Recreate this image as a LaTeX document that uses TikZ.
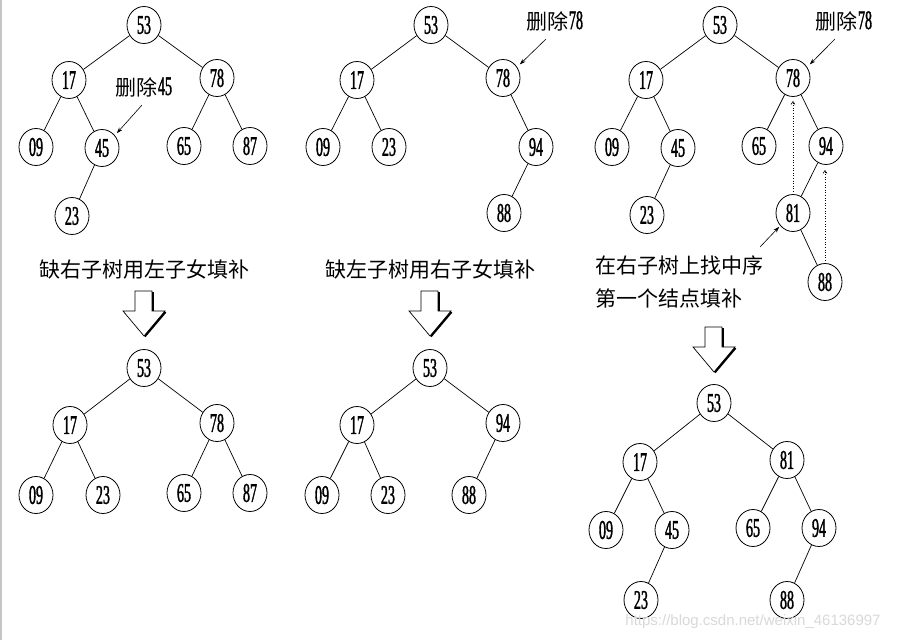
\documentclass[tikz,border=0pt]{standalone}
\usepackage{fontspec}
\setmainfont{Liberation Serif}
\newfontfamily\numfont[FakeStretch=0.52,FakeBold=1.2]{Liberation Serif}
\newfontfamily\cjk{Noto Sans CJK SC}
\newfontfamily\wmfont{Liberation Sans}
\usetikzlibrary{shapes.geometric,arrows.meta}
\newcommand\dgt{\numfont\fontsize{27pt}{27pt}\selectfont}
\tikzset{
  nd/.style={ellipse, draw, line width=0.8pt, minimum width=34pt, minimum height=37pt,
    inner sep=0pt, font=\dgt},
  ln/.style={line width=0.7pt},
  ptr/.style={line width=0.6pt, -{Stealth[length=6pt,width=4pt]}},
  dotarr/.style={line width=0.6pt, dotted, -{Straight Barb[length=3pt,width=4pt]}},
  lbl/.style={font=\cjk\fontsize{21pt}{21pt}\selectfont, inner sep=0pt},
  captxt/.style={font=\cjk\fontsize{21pt}{21pt}\selectfont, inner sep=0pt},
  bigarr/.pic={
    \draw[line width=0.7pt, fill=white] (-21,20) -- (-9,20) -- (-9,0) -- (8,0) -- (8,20) -- (21,20) -- (0,45) -- cycle;
    \draw[line width=2pt] (9,1) -- (9,20);
    \draw[line width=2pt] (21.5,21) -- (0.8,45.5);
  }
}
\begin{document}
\begin{tikzpicture}[x=1pt,y=-1pt]
\useasboundingbox (0,0) rectangle (899,640);
\fill[white] (0,0) rectangle (899,640);
\draw[gray!45, line width=2pt] (1,0) -- (1,640);

% ---------- Tree A (top-left) ----------
\node[nd] (a53) at (144,25) {53};
\node[nd] (a17) at (69,80) {17};
\node[nd] (a78) at (217,78) {78};
\node[nd] (a09) at (36,147) {09};
\node[nd] (a45) at (102,148) {45};
\node[nd] (a65) at (184,146) {65};
\node[nd] (a87) at (250,146) {87};
\node[nd] (a23) at (72,216) {23};
\draw[ln] (a53) -- (a17); \draw[ln] (a53) -- (a78);
\draw[ln] (a17) -- (a09); \draw[ln] (a17) -- (a45);
\draw[ln] (a45) -- (a23);
\draw[ln] (a78) -- (a65); \draw[ln] (a78) -- (a87);
\node[lbl] (la) at (144,87) {删除{\dgt 45}};
\coordinate (lat) at (142,105);
\draw[ptr] (lat) -- ([shift={(2,-2)}]a45.45);

% ---------- Tree B (top-middle) ----------
\node[nd] (b53) at (431,25) {53};
\node[nd] (b17) at (357,80) {17};
\node[nd] (b78) at (503,78) {78};
\node[nd] (b09) at (323,147) {09};
\node[nd] (b23) at (389,147) {23};
\node[nd] (b94) at (536,147) {94};
\node[nd] (b88) at (504,213) {88};
\draw[ln] (b53) -- (b17); \draw[ln] (b53) -- (b78);
\draw[ln] (b17) -- (b09); \draw[ln] (b17) -- (b23);
\draw[ln] (b78) -- (b94); \draw[ln] (b94) -- (b88);
\node[lbl] (lb) at (555,21) {删除{\dgt 78}};
\coordinate (lbt) at (546,39);
\draw[ptr] (lbt) -- ([shift={(3,-2)}]b78.40);

% ---------- Tree C (top-right) ----------
\node[nd] (c53) at (720,25) {53};
\node[nd] (c17) at (646,80) {17};
\node[nd] (c78) at (793,78) {78};
\node[nd] (c09) at (612,147) {09};
\node[nd] (c45) at (678,148) {45};
\node[nd] (c65) at (759,146) {65};
\node[nd] (c94) at (826,146) {94};
\node[nd] (c23) at (647,215) {23};
\node[nd] (c81) at (793,213) {81};
\node[nd] (c88) at (825,282) {88};
\draw[ln] (c53) -- (c17); \draw[ln] (c53) -- (c78);
\draw[ln] (c17) -- (c09); \draw[ln] (c17) -- (c45);
\draw[ln] (c45) -- (c23);
\draw[ln] (c78) -- (c65); \draw[ln] (c78) -- (c94);
\draw[ln] (c94) -- (c81); \draw[ln] (c81) -- (c88);
\node[lbl] (lc) at (844,21) {删除{\dgt 78}};
\coordinate (lct) at (835,39);
\draw[ptr] (lct) -- ([shift={(3,-2)}]c78.40);
\draw[dotarr, shorten >=4pt] (c81.north) -- (c78.south);
\draw[dotarr, shorten >=5pt] (c88.north) -- (c88.north |- c94.south);
\coordinate (lct2) at (760,247);
\draw[ptr] (lct2) -- ([shift={(-1,1)}]c81.225);
\node[captxt, anchor=west] (tc1) at (595,265) {在右子树上找中序};
\node[captxt, anchor=west] (tc2) at (595,298) {第一个结点填补};

% ---------- captions and big arrows ----------
\node[captxt] (ta) at (144,269) {缺右子树用左子女填补};
\node[captxt] (tb) at (430,269) {缺左子树用右子女填补};
\pic at (144,291) {bigarr};
\pic at (430,291) {bigarr};
\pic at (714,327) {bigarr};

% ---------- Tree D (bottom-left) ----------
\node[nd] (d53) at (144,368) {53};
\node[nd] (d17) at (70,425) {17};
\node[nd] (d78) at (217,423) {78};
\node[nd] (d09) at (36,495) {09};
\node[nd] (d23) at (103,495) {23};
\node[nd] (d65) at (184,493) {65};
\node[nd] (d87) at (250,493) {87};
\draw[ln] (d53) -- (d17); \draw[ln] (d53) -- (d78);
\draw[ln] (d17) -- (d09); \draw[ln] (d17) -- (d23);
\draw[ln] (d78) -- (d65); \draw[ln] (d78) -- (d87);

% ---------- Tree E (bottom-middle) ----------
\node[nd] (e53) at (430,368) {53};
\node[nd] (e17) at (357,425) {17};
\node[nd] (e94) at (503,423) {94};
\node[nd] (e09) at (322,495) {09};
\node[nd] (e23) at (388,495) {23};
\node[nd] (e88) at (469,495) {88};
\draw[ln] (e53) -- (e17); \draw[ln] (e53) -- (e94);
\draw[ln] (e17) -- (e09); \draw[ln] (e17) -- (e23);
\draw[ln] (e94) -- (e88);

% ---------- Tree F (bottom-right) ----------
\node[nd] (f53) at (714,403) {53};
\node[nd] (f17) at (640,462) {17};
\node[nd] (f81) at (787,460) {81};
\node[nd] (f09) at (606,530) {09};
\node[nd] (f45) at (672,530) {45};
\node[nd] (f65) at (753,528) {65};
\node[nd] (f94) at (819,528) {94};
\node[nd] (f23) at (641,600) {23};
\node[nd] (f88) at (787,600) {88};
\draw[ln] (f53) -- (f17); \draw[ln] (f53) -- (f81);
\draw[ln] (f17) -- (f09); \draw[ln] (f17) -- (f45);
\draw[ln] (f45) -- (f23);
\draw[ln] (f81) -- (f65); \draw[ln] (f81) -- (f94);
\draw[ln] (f94) -- (f88);

\node[font=\wmfont\fontsize{15pt}{15pt}\selectfont, text=gray!30, inner sep=0pt] (wm) at (753,622) {https://blog.csdn.net/weixin\_46136997};
\end{tikzpicture}
\end{document}
